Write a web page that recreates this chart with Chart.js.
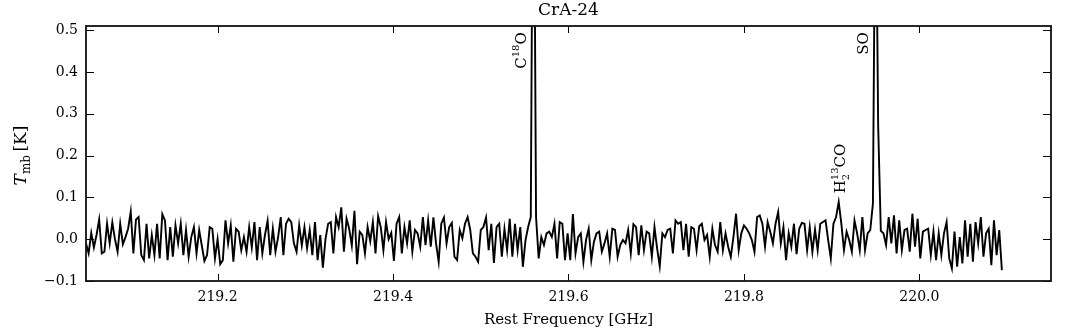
<!DOCTYPE html>
<html>
<head>
<meta charset="utf-8">
<title>CrA-24 spectrum</title>
<script src="https://cdn.jsdelivr.net/npm/chart.js@4.4.1/dist/chart.umd.min.js"></script>
<style>
    html, body { margin: 0; padding: 0; background: #fff; }
    #wrap { position: relative; width: 1072px; height: 331px; }
</style>
</head>
<body>
<div id="wrap"><canvas id="specChart"></canvas></div>
<script>
/* ── DATA ─────────────────────────────────────────────── */
const TITLE    = 'CrA-24';
const X_LABEL  = 'Rest Frequency [GHz]';
const X_MIN    = 219.05;
const X_MAX    = 220.15;
const Y_MIN    = -0.1;
const Y_MAX    = 0.51;
const X_TICKS  = [219.2, 219.4, 219.6, 219.8, 220.0];
const Y_TICKS  = [-0.1, 0.0, 0.1, 0.2, 0.3, 0.4, 0.5];

// spectrometer channels: first channel frequency and channel width (GHz)
const CHAN_START = 219.05;
const CHAN_WIDTH = 0.003;

// main-beam temperature per channel [K]
const TMB = [
    -0.010, -0.034,  0.015, -0.020,  0.010,  0.047, -0.034, -0.030,  0.037, -0.010,
     0.040,  0.000, -0.030,  0.037, -0.012,  0.005,  0.025,  0.066, -0.034,  0.047,
     0.053, -0.038, -0.050,  0.037, -0.046,  0.010, -0.038,  0.037, -0.046,  0.060,
     0.045, -0.050,  0.029, -0.042,  0.033, -0.010,  0.037, -0.038,  0.022, -0.042,
     0.005,  0.029, -0.034,  0.022, -0.015, -0.052, -0.038,  0.029,  0.025, -0.046,
     0.000, -0.060, -0.050,  0.045, -0.010,  0.033, -0.054,  0.025,  0.018, -0.026,
     0.005, -0.030,  0.029, -0.020,  0.041, -0.050,  0.029, -0.034,  0.010,  0.044,
    -0.038,  0.025, -0.030,  0.005,  0.053, -0.038,  0.037,  0.049,  0.041, -0.010,
    -0.030,  0.033, -0.015,  0.029, -0.022,  0.022, -0.038,  0.041, -0.050,  0.010,
    -0.068,  0.000,  0.037,  0.041, -0.034,  0.053,  0.029,  0.076, -0.030,  0.049,
     0.025, -0.015,  0.068, -0.060,  0.018,  0.010, -0.034,  0.029, -0.005,  0.041,
    -0.034,  0.055,  0.029, -0.026,  0.041,  0.000,  0.015, -0.052,  0.037,  0.053,
    -0.034,  0.029, -0.010,  0.045, -0.030,  0.022,  0.014, -0.018,  0.053, -0.014,
     0.045, -0.018,  0.052, -0.010, -0.054,  0.037,  0.052, -0.010,  0.029,  0.039,
    -0.042, -0.050,  0.022,  0.002,  0.037,  0.053,  0.022, -0.034, -0.042, -0.054,
     0.022,  0.029,  0.052, -0.026,  0.037, -0.057,  0.029,  0.037, -0.042,  0.025,
    -0.026,  0.049, -0.042,  0.037, -0.026,  0.029, -0.066, -0.002,  0.029,  0.053,
     1.200,  0.053, -0.046,  0.005, -0.014,  0.014,  0.018,  0.005,  0.037, -0.046,
     0.041,  0.037, -0.050,  0.014, -0.050,  0.060, -0.034,  0.005,  0.014, -0.054,
    -0.002,  0.025, -0.050, -0.006,  0.014,  0.018, -0.030, -0.010,  0.014, -0.042,
     0.025,  0.022, -0.042, -0.014, -0.002, -0.010,  0.022, -0.034,  0.036,  0.029,
    -0.038,  0.033, -0.026,  0.018,  0.014, -0.042,  0.029, -0.022, -0.065,  0.014,
     0.005,  0.022,  0.025, -0.034,  0.045,  0.037,  0.041, -0.026,  0.037, -0.042,
     0.029,  0.025, -0.026,  0.031,  0.037, -0.002,  0.010, -0.042,  0.025, -0.014,
    -0.030,  0.041, -0.026,  0.014, -0.018, -0.042,  0.005,  0.061, -0.026,  0.014,
     0.033,  0.025,  0.014, -0.002, -0.030,  0.053,  0.057,  0.037, -0.018,  0.041,
     0.018, -0.010,  0.037,  0.065, -0.010,  0.029, -0.050,  0.014, -0.018,  0.037,
    -0.036,  0.025,  0.039,  0.037, -0.026,  0.029, -0.030,  0.023, -0.026,  0.037,
     0.041,  0.045, -0.002, -0.046,  0.037,  0.053,  0.089,  0.037, -0.026,  0.018,
    -0.002, -0.030,  0.045,  0.014, -0.026,  0.053, -0.026,  0.014,  0.022,  0.085,
     0.950,  0.270,  0.020,  0.014, -0.014,  0.053, -0.010,  0.057, -0.034,  0.045,
    -0.026,  0.022,  0.025, -0.030,  0.061, -0.018,  0.049, -0.046,  0.018,  0.022,
     0.025, -0.038,  0.018, -0.050,  0.014, -0.038,  0.014,  0.041, -0.046, -0.070,
     0.018, -0.066,  0.005, -0.058,  0.045, -0.042,  0.037, -0.054,  0.041, -0.010,
     0.053, -0.042,  0.014,  0.025, -0.062,  0.045, -0.038,  0.022, -0.074
];

// identified lines: rest frequency (GHz) and the Tmb where the label sits
const LINE_IDS   = ['C18O', 'H2_13CO', 'SO'];
const LINE_FREQS = [219.560, 219.909, 219.949];
const LINE_LABEL_Y = [0.495, 0.11, 0.495];

(function () {
    'use strict';

    const SERIF = '"DejaVu Serif", "Liberation Serif", serif';
    const INK   = '#000';

    /* ── rich rotated text (super/subscripts) ────────────── */
    // pieces: [text, size, dy, advance]; drawn reading bottom-to-top
    const LABEL_PIECES = {
        'C18O':    [['C', 15, 0, true], ['18', 10, -7, true], ['O', 15, 0, true]],
        'SO':      [['SO', 15, 0, true]],
        'H2_13CO': [['H', 15, 0, true], ['2', 10, 4, false], ['13', 10, -7, true], ['CO', 15, 0, true]],
    };
    const YTITLE_PIECES = [['T', 17, 0, true, 'italic '], ['mb', 12, 4, true], ['\u2009[K]', 17, 0, true]];

    function pieceWidth(ctx, p) {
        ctx.font = (p[4] || '') + p[1] + 'px ' + SERIF;
        return ctx.measureText(p[0]).width;
    }

    function drawRotated(ctx, pieces, x, y, align) {
        let total = 0;
        pieces.forEach(p => { if (p[3]) total += pieceWidth(ctx, p); });
        ctx.save();
        ctx.translate(x, y);
        ctx.rotate(-Math.PI / 2);
        ctx.fillStyle = INK;
        ctx.textAlign = 'left';
        ctx.textBaseline = 'alphabetic';
        let pos = align === 'end' ? -total : (align === 'center' ? -total / 2 : 0);
        pieces.forEach(p => {
            const w = pieceWidth(ctx, p);
            ctx.fillText(p[0], pos, p[2]);
            if (p[3]) pos += w;
        });
        ctx.restore();
    }

    /* ── frame, inward ticks, labels ─────────────────────── */
    const framePlugin = {
        id: 'mplFrame',
        afterDraw(chart) {
            const { ctx, chartArea: a, scales: { x, y } } = chart;
            ctx.save();
            ctx.strokeStyle = INK;
            ctx.lineWidth = 1;
            ctx.beginPath();
            X_TICKS.forEach(v => {
                const px = Math.round(x.getPixelForValue(v)) + 0.5;
                ctx.moveTo(px, a.bottom); ctx.lineTo(px, a.bottom - 7);
                ctx.moveTo(px, a.top);    ctx.lineTo(px, a.top + 7);
            });
            Y_TICKS.forEach(v => {
                const py = Math.round(y.getPixelForValue(v)) + 0.5;
                ctx.moveTo(a.left, py);  ctx.lineTo(a.left + 8, py);
                ctx.moveTo(a.right, py); ctx.lineTo(a.right - 8, py);
            });
            ctx.stroke();
            ctx.lineWidth = 1.8;
            ctx.strokeStyle = '#111';
            ctx.strokeRect(a.left, a.top, a.right - a.left, a.bottom - a.top);
            ctx.restore();

            // line identifications
            LINE_IDS.forEach((id, i) => {
                const px = x.getPixelForValue(LINE_FREQS[i]);
                const py = y.getPixelForValue(LINE_LABEL_Y[i]);
                if (id === 'H2_13CO') drawRotated(ctx, LABEL_PIECES[id], px + 5, py, 'start');
                else drawRotated(ctx, LABEL_PIECES[id], px - 7, py, 'end');
            });

            // y-axis title  T_mb [K]
            drawRotated(ctx, YTITLE_PIECES, 26, (a.top + a.bottom) / 2 + 2, 'center');
        }
    };

    /* ── chart ───────────────────────────────────────────── */
    new Chart(document.getElementById('specChart'), {
        type: 'line',
        data: {
            datasets: [{
                data: TMB.map((t, i) => ({ x: CHAN_START + i * CHAN_WIDTH, y: t })),
                borderColor: INK,
                borderWidth: 1.9,
                pointRadius: 0,
                tension: 0,
                fill: false,
                clip: 0,
            }]
        },
        options: {
            responsive: true,
            maintainAspectRatio: false,
            animation: false,
            devicePixelRatio: 1,
            layout: { padding: { left: 0, right: 21, top: 0, bottom: 0 } },
            plugins: {
                legend: { display: false },
                tooltip: { enabled: false },
                title: {
                    display: true,
                    text: TITLE,
                    fullSize: false,
                    color: INK,
                    font: { family: SERIF, size: 17, weight: 'normal' },
                    padding: { top: 0, bottom: 5.6 },
                },
            },
            scales: {
                x: {
                    type: 'linear',
                    min: X_MIN,
                    max: X_MAX,
                    grid: { display: false, drawTicks: false },
                    border: { display: false },
                    afterBuildTicks: s => { s.ticks = X_TICKS.map(v => ({ value: v })); },
                    afterFit: s => { s.height = 50; },
                    ticks: {
                        color: INK,
                        font: { family: SERIF, size: 14 },
                        padding: 8,
                        maxRotation: 0,
                        autoSkip: false,
                        callback: v => v.toFixed(1),
                    },
                    title: {
                        display: true,
                        text: X_LABEL,
                        color: INK,
                        font: { family: SERIF, size: 15 },
                        padding: { top: 0, bottom: 2 },
                    },
                },
                y: {
                    min: Y_MIN,
                    max: Y_MAX,
                    grid: { display: false, drawTicks: false },
                    border: { display: false },
                    afterBuildTicks: s => { s.ticks = Y_TICKS.map(v => ({ value: v })); },
                    afterFit: s => { s.width = 86; },
                    ticks: {
                        color: INK,
                        font: { family: SERIF, size: 14 },
                        padding: 8,
                        callback: v => v.toFixed(1).replace('-', '\u2212'),
                    },
                },
            },
        },
        plugins: [framePlugin],
    });
})();
</script>
</body>
</html>
